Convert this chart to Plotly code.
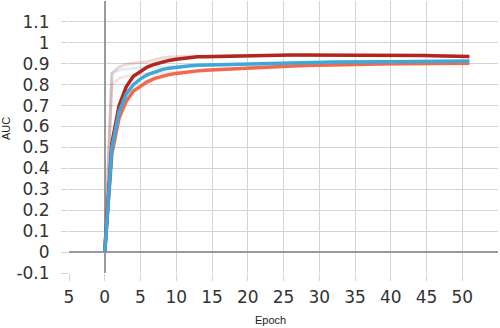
import plotly.graph_objects as go

epochs = list(range(0, 52))

auc_dark = [0.0, 0.52, 0.70, 0.79, 0.84, 0.865, 0.885, 0.898, 0.908, 0.916, 0.922, 0.927, 0.931,
            0.933, 0.934, 0.935, 0.935, 0.935, 0.936, 0.937, 0.938, 0.939, 0.940, 0.940, 0.941,
            0.942, 0.942, 0.942, 0.942, 0.942, 0.942, 0.942, 0.941, 0.941, 0.942, 0.943, 0.943,
            0.943, 0.942, 0.941, 0.940, 0.940, 0.940, 0.939, 0.939, 0.939, 0.938, 0.938, 0.937,
            0.937, 0.936, 0.935]
auc_blue = [0.0, 0.50, 0.67, 0.755, 0.80, 0.828, 0.848, 0.862, 0.872, 0.879, 0.884, 0.888, 0.891,
            0.893, 0.894, 0.894, 0.895, 0.895, 0.896, 0.897, 0.898, 0.899, 0.900, 0.901, 0.903,
            0.905, 0.906, 0.907, 0.907, 0.907, 0.907, 0.908, 0.908, 0.908, 0.909, 0.909, 0.909,
            0.909, 0.910, 0.910, 0.910, 0.910, 0.910, 0.911, 0.911, 0.911, 0.911, 0.912, 0.912,
            0.912, 0.913, 0.913]
auc_orange = [0.0, 0.47, 0.64, 0.72, 0.77, 0.795, 0.815, 0.830, 0.840, 0.848, 0.854, 0.859, 0.863,
              0.866, 0.869, 0.871, 0.873, 0.875, 0.877, 0.879, 0.881, 0.883, 0.885, 0.886, 0.888,
              0.889, 0.890, 0.891, 0.892, 0.893, 0.894, 0.895, 0.895, 0.896, 0.896, 0.897, 0.898,
              0.898, 0.899, 0.899, 0.900, 0.900, 0.900, 0.901, 0.901, 0.901, 0.902, 0.902, 0.902,
              0.903, 0.903, 0.903]

faded_dark = [0.0, 0.855, 0.885, 0.897, 0.902, 0.905, 0.910, 0.920, 0.928, 0.932, 0.934, 0.935,
              0.936, 0.936, 0.936, 0.936, 0.936, 0.937, 0.937, 0.938, 0.938, 0.939, 0.940, 0.940,
              0.941, 0.941, 0.941, 0.941, 0.941, 0.941, 0.941, 0.941, 0.941, 0.941, 0.941, 0.942,
              0.942, 0.942, 0.941, 0.940, 0.940, 0.939, 0.939, 0.939, 0.938, 0.938, 0.938, 0.937,
              0.937, 0.936, 0.936, 0.935]
faded_blue = [0.0, 0.855, 0.870, 0.875, 0.878, 0.880, 0.882, 0.884, 0.886, 0.887, 0.888, 0.889,
              0.890, 0.891, 0.892, 0.893, 0.894, 0.895, 0.895, 0.896, 0.897, 0.898, 0.899, 0.900,
              0.901, 0.903, 0.904, 0.905, 0.906, 0.906, 0.906, 0.907, 0.907, 0.907, 0.908, 0.908,
              0.908, 0.908, 0.909, 0.909, 0.909, 0.909, 0.910, 0.910, 0.910, 0.910, 0.911, 0.911,
              0.911, 0.912, 0.912, 0.912]
faded_orange = [0.0, 0.80, 0.830, 0.840, 0.845, 0.850, 0.852, 0.854, 0.856, 0.858, 0.860, 0.862,
                0.864, 0.866, 0.868, 0.870, 0.872, 0.874, 0.876, 0.878, 0.880, 0.882, 0.884, 0.885,
                0.887, 0.888, 0.889, 0.890, 0.891, 0.892, 0.893, 0.894, 0.894, 0.895, 0.895, 0.896,
                0.897, 0.897, 0.898, 0.898, 0.899, 0.899, 0.899, 0.900, 0.900, 0.900, 0.901, 0.901,
                0.901, 0.902, 0.902, 0.902]

x_tickvals = [-5, 0, 5, 10, 15, 20, 25, 30, 35, 40, 45, 50]
x_ticktext = ["5", "0", "5", "10", "15", "20", "25", "30", "35", "40", "45", "50"]
y_tickvals = [-0.1, 0, 0.1, 0.2, 0.3, 0.4, 0.5, 0.6, 0.7, 0.8, 0.9, 1.0, 1.1]
y_ticktext = ["-0.1", "0", "0.1", "0.2", "0.3", "0.4", "0.5", "0.6", "0.7", "0.8", "0.9", "1", "1.1"]

C_DARK = "#b3261e"
C_BLUE = "#3ea8da"
C_ORANGE = "#f26a4c"

fig = go.Figure()
for ys, c in [(faded_orange, C_ORANGE), (faded_blue, C_BLUE), (faded_dark, C_DARK)]:
    fig.add_trace(go.Scatter(x=epochs, y=ys, mode="lines", opacity=0.18,
                             line=dict(color=c, width=3), hoverinfo="skip"))
for ys, c in [(auc_orange, C_ORANGE), (auc_dark, C_DARK), (auc_blue, C_BLUE)]:
    fig.add_trace(go.Scatter(x=epochs, y=ys, mode="lines",
                             line=dict(color=c, width=3.5)))

L, R, T, B = 69, 2, 1, 55
W, H = 500, 328
pw, ph = W - L - R, H - T - B

GRID = "#d4d4d4"
fig.update_layout(
    width=W, height=H,
    margin=dict(l=L, r=R, t=T, b=B),
    paper_bgcolor="white", plot_bgcolor="white",
    showlegend=False,
    font=dict(family="DejaVu Sans", size=17, color="#333333"),
    xaxis=dict(range=[-5, 55], tickvals=x_tickvals, ticktext=x_ticktext,
               showgrid=True, gridcolor=GRID, gridwidth=1.2,
               ticks="outside", ticklen=7, tickcolor=GRID, tickwidth=1.2,
               zeroline=True, zerolinecolor="#9a9a9a", zerolinewidth=2,
               showline=False, automargin=False, ticklabelstandoff=2),
    yaxis=dict(range=[-0.1, 1.2], tickvals=y_tickvals, ticktext=y_ticktext,
               showgrid=True, gridcolor=GRID, gridwidth=1.2,
               ticks="outside", ticklen=7, tickcolor=GRID, tickwidth=1.2,
               zeroline=True, zerolinecolor="#9a9a9a", zerolinewidth=2,
               showline=False, automargin=False, ticklabelstandoff=8),
    annotations=[
        dict(text="Epoch", x=(270 - L) / pw, y=(H - B - 320) / ph, xref="paper", yref="paper",
             showarrow=False, xanchor="center", yanchor="middle",
             font=dict(family="Liberation Sans", size=11, color="#222222")),
        dict(text="AUC", x=(6 - L) / pw, y=(H - B - 129) / ph, xref="paper", yref="paper",
             showarrow=False, textangle=-90, xanchor="center", yanchor="middle",
             font=dict(family="Liberation Sans", size=11, color="#222222")),
    ],
)

fig.write_html("out.html", config={"displayModeBar": False},
               post_script="document.body.style.margin='0';document.body.style.overflow='hidden';")
